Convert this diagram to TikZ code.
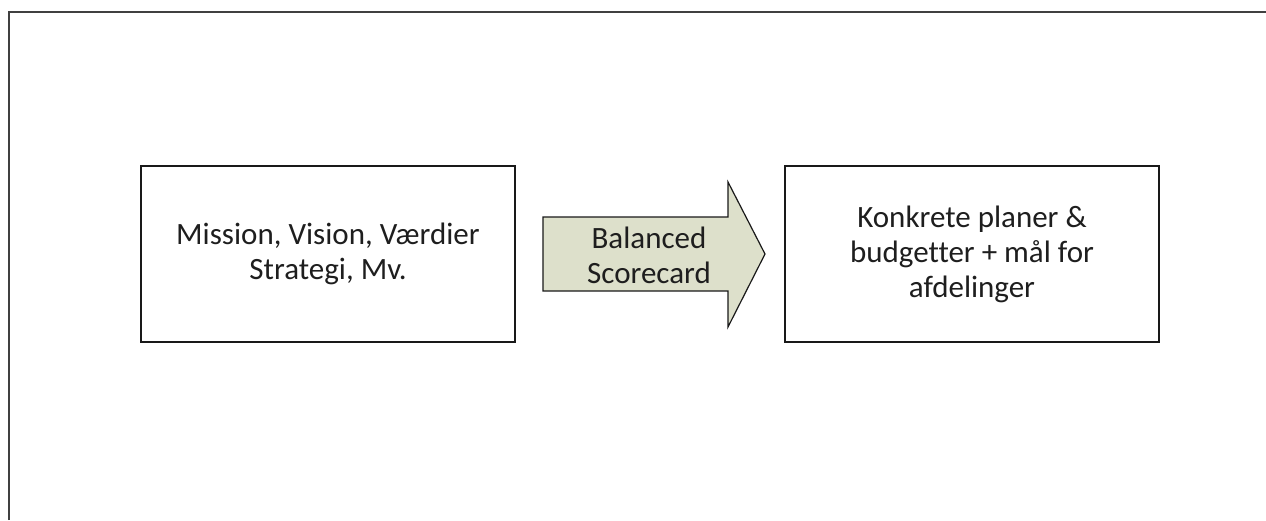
\documentclass[tikz,border=0pt]{standalone}
\usepackage{fontspec}
\setmainfont{Carlito}[Ligatures=NoCommon]
\definecolor{arrowfill}{RGB}{221,224,203}
\definecolor{inktext}{RGB}{30,30,30}
\begin{document}
\begin{tikzpicture}[x=1pt,y=-1pt,
  box/.style={draw=black!90, line width=1.4pt, minimum width=374pt, minimum height=176pt,
    align=center, text=inktext, font=\fontsize{31}{35}\selectfont, inner sep=0pt},
  label/.style={align=center, text=inktext, font=\fontsize{31}{35}\selectfont, inner sep=0pt}]
  \useasboundingbox (0,0) rectangle (1266,520);
  % page frame, cut off at the right and bottom
  \draw[black!75, line width=2.2pt] (9,520) -- (9,12) -- (1266,12);
  % the two boxes
  \node[box] (mission) at (328,254) {Mission, Vision, Værdier\\Strategi, Mv.};
  \node[box] (plans) at (972,254) {Konkrete planer \&\\budgetter + mål for\\afdelinger};
  % block arrow between them
  \draw[fill=arrowfill, draw=black!90, line width=1.2pt, line join=miter]
    (543,217) -- (728,217) -- (728,182) -- (765,254) -- (728,327) -- (728,291) -- (543,291) -- cycle;
  \node[label] (bsc) at (649,255) {Balanced\\Scorecard};
\end{tikzpicture}
\end{document}
